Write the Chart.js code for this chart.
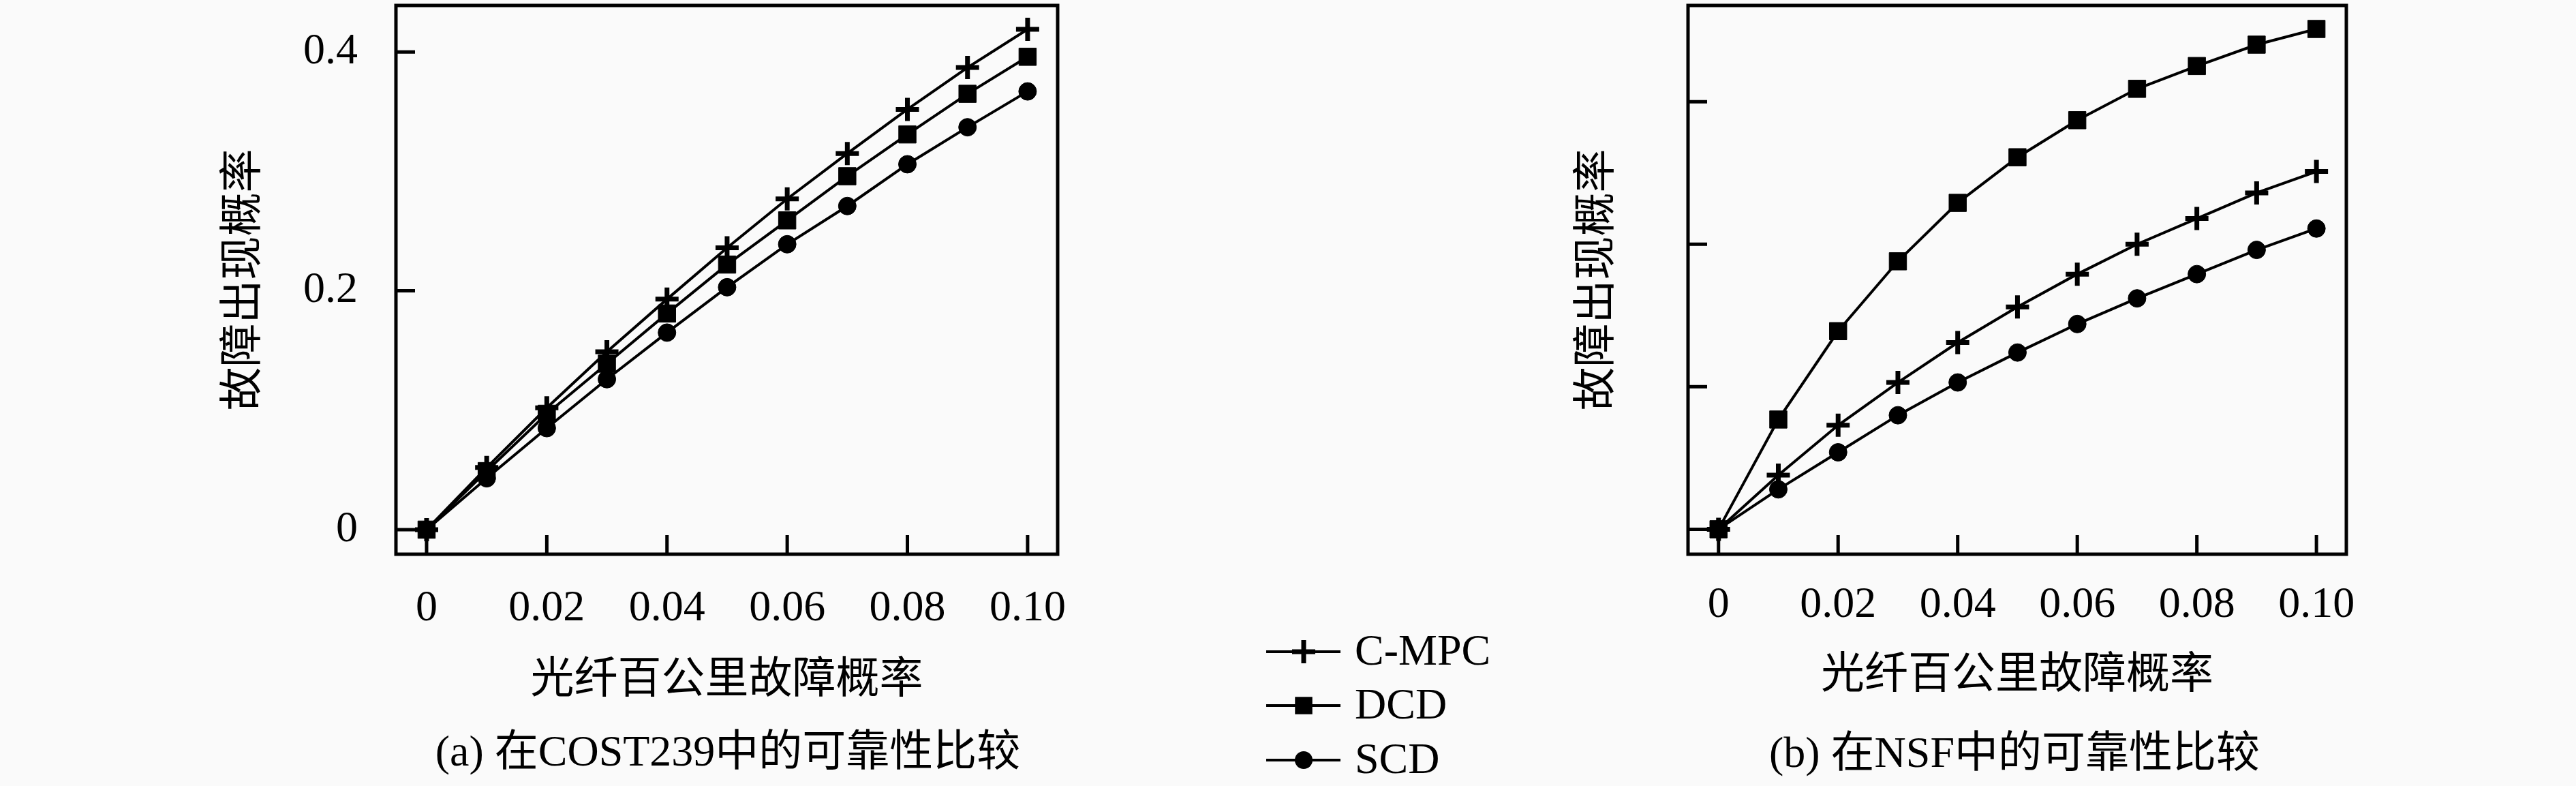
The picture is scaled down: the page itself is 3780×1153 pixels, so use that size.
<!DOCTYPE html>
<html>
<head>
<meta charset="utf-8">
<script src="https://cdn.jsdelivr.net/npm/chart.js@4/dist/chart.umd.min.js"></script>
<style>
  html, body { margin: 0; padding: 0; background: #fafafa; }
  #wrap { position: relative; width: 3780px; height: 1153px; background: #fafafa; }
  canvas { position: absolute; top: 0; }
</style>
</head>
<body>
<div id="wrap">
  <canvas id="cost239Chart" width="2250" height="1153" style="left:0px;width:2250px;height:1153px"></canvas>
  <canvas id="nsfChart" width="1530" height="1153" style="left:2250px;width:1530px;height:1153px"></canvas>
</div>
<script>
// x values: fibre failure probability per 100 km
const failProb = [0, 0.01, 0.02, 0.03, 0.04, 0.05, 0.06, 0.07, 0.08, 0.09, 0.10];

// (a) COST239
const cost239CMPC = [0, 0.052, 0.102, 0.149, 0.193, 0.236, 0.277, 0.315, 0.352, 0.387, 0.419];
const cost239DCD  = [0, 0.049, 0.097, 0.139, 0.181, 0.222, 0.259, 0.296, 0.331, 0.365, 0.396];
const cost239SCD  = [0, 0.043, 0.085, 0.126, 0.165, 0.203, 0.239, 0.271, 0.306, 0.337, 0.367];

// (b) NSF (y axis has no labels in the original)
const nsfCMPC = [0, 0.038, 0.073, 0.103, 0.131, 0.156, 0.179, 0.200, 0.218, 0.236, 0.251];
const nsfDCD  = [0, 0.077, 0.139, 0.188, 0.229, 0.261, 0.287, 0.309, 0.325, 0.340, 0.351];
const nsfSCD  = [0, 0.028, 0.054, 0.080, 0.103, 0.124, 0.144, 0.162, 0.179, 0.196, 0.211];

const seriesNames = ['C-MPC', 'DCD', 'SCD'];
const xTickValues = [0, 0.02, 0.04, 0.06, 0.08, 0.10];
const xTickLabels = ['0', '0.02', '0.04', '0.06', '0.08', '0.10'];
const cost239YTicks = [0, 0.2, 0.4];
const cost239YLabels = ['0', '0.2', '0.4'];
const nsfYTicks = [0, 0.1, 0.2, 0.3];

const xTitle = '光纤百公里故障概率';
const yTitle = '故障出现概率';
const captionA = '(a) 在COST239中的可靠性比较';
const captionB = '(b) 在NSF中的可靠性比较';

const FONT = "'Liberation Serif', 'Noto Sans CJK SC', serif";
const markerStyles = ['cross', 'rect', 'circle'];
const markerRadius = [17, 18, 13];

function toPoints(ys) {
  return ys.map((y, i) => ({ x: failProb[i], y: y }));
}

function makeDatasets(values) {
  return values.map((ys, i) => ({
    label: seriesNames[i],
    data: toPoints(ys),
    borderColor: '#000000',
    backgroundColor: '#000000',
    borderWidth: 4,
    tension: 0,
    pointStyle: markerStyles[i],
    pointRadius: markerRadius[i],
    pointBorderWidth: markerStyles[i] === 'cross' ? 7 : 1,
    pointBackgroundColor: '#000000',
    pointBorderColor: '#000000'
  }));
}

// manual marker for the legend
function drawMarker(ctx, style, x, y, r) {
  ctx.save();
  ctx.fillStyle = '#000';
  ctx.strokeStyle = '#000';
  if (style === 'cross') {
    ctx.lineWidth = 7;
    ctx.beginPath();
    ctx.moveTo(x - r, y); ctx.lineTo(x + r, y);
    ctx.moveTo(x, y - r); ctx.lineTo(x, y + r);
    ctx.stroke();
  } else if (style === 'rect') {
    const s = Math.SQRT1_2 * r;
    ctx.fillRect(x - s, y - s, 2 * s, 2 * s);
  } else {
    ctx.beginPath();
    ctx.arc(x, y, r, 0, Math.PI * 2);
    ctx.fill();
  }
  ctx.restore();
}

// box around the plot and inward tick marks
const frameAndTicks = {
  id: 'frameAndTicks',
  beforeDatasetsDraw(chart) {
    const ctx = chart.ctx;
    const a = chart.chartArea;
    const xs = chart.scales.x, ys = chart.scales.y;
    ctx.save();
    ctx.strokeStyle = '#000';
    ctx.lineWidth = 5;
    ctx.strokeRect(a.left, a.top, a.right - a.left, a.bottom - a.top);
    ctx.beginPath();
    xs.ticks.forEach(t => {
      const px = xs.getPixelForValue(t.value);
      ctx.moveTo(px, a.bottom); ctx.lineTo(px, a.bottom - 28);
    });
    ys.ticks.forEach(t => {
      const py = ys.getPixelForValue(t.value);
      ctx.moveTo(a.left, py); ctx.lineTo(a.left + 28, py);
    });
    ctx.stroke();
    ctx.restore();
  }
};

// caption under each panel, legend only on the first canvas
const captionAndLegend = {
  id: 'captionAndLegend',
  afterDraw(chart, args, opts) {
    const ctx = chart.ctx;
    ctx.save();
    ctx.fillStyle = '#000';
    ctx.font = '64px ' + FONT;
    ctx.textAlign = 'center';
    ctx.textBaseline = 'middle';
    ctx.fillText(opts.caption, opts.captionX, opts.captionY);
    if (opts.legend) {
      const rows = [956, 1035, 1115];
      chart.data.datasets.forEach((ds, i) => {
        const y = rows[i];
        ctx.strokeStyle = '#000';
        ctx.lineWidth = 4;
        ctx.beginPath();
        ctx.moveTo(1858, y); ctx.lineTo(1967, y);
        ctx.stroke();
        drawMarker(ctx, ds.pointStyle, 1913, y, ds.pointRadius);
        ctx.textAlign = 'left';
        ctx.fillText(ds.label, 1988, y + 2);
      });
    }
    ctx.restore();
  }
};

function buildChart(id, values, cfg) {
  const ctx = document.getElementById(id).getContext('2d');
  return new Chart(ctx, {
    type: 'line',
    data: { datasets: makeDatasets(values) },
    options: {
      responsive: false,
      maintainAspectRatio: false,
      animation: false,
      devicePixelRatio: 1,
      layout: { autoPadding: false, padding: { left: 0, top: 8, right: cfg.padRight, bottom: 0 } },
      scales: {
        x: {
          type: 'linear',
          min: -0.0051,
          max: 0.105,
          afterBuildTicks: s => { s.ticks = xTickValues.map(v => ({ value: v })); },
          afterFit: s => { s.height = 340; s.paddingLeft = 0; s.paddingRight = 0; },
          grid: { display: false, drawTicks: false },
          border: { display: false },
          ticks: {
            padding: cfg.xTickPad,
            maxRotation: 0,
            autoSkip: false,
            color: '#000',
            font: { family: FONT, size: 64 },
            callback: (v) => xTickLabels[xTickValues.indexOf(v)]
          },
          title: {
            display: true,
            text: xTitle,
            color: '#000',
            font: { family: FONT, size: 64 },
            padding: { top: 0, bottom: cfg.xTitlePad }
          }
        },
        y: {
          type: 'linear',
          min: cfg.yMin,
          max: cfg.yMax,
          afterBuildTicks: s => { s.ticks = cfg.yTicks.map(v => ({ value: v })); },
          afterFit: s => { s.width = cfg.yWidth; s.paddingTop = 0; s.paddingBottom = 0; },
          grid: { display: false, drawTicks: false },
          border: { display: false },
          ticks: {
            display: cfg.yLabels !== null,
            padding: 56,
            color: '#000',
            font: { family: FONT, size: 64 },
            callback: (v) => cfg.yLabels ? cfg.yLabels[cfg.yTicks.indexOf(v)] : ''
          },
          title: {
            display: true,
            text: yTitle,
            color: '#000',
            font: { family: FONT, size: 64 },
            padding: { top: cfg.yTitlePad, bottom: 0 }
          }
        }
      },
      plugins: {
        legend: { display: false },
        tooltip: { enabled: false },
        captionAndLegend: cfg.caption
      }
    },
    plugins: [frameAndTicks, captionAndLegend]
  });
}

buildChart('cost239Chart', [cost239CMPC, cost239DCD, cost239SCD], {
  padRight: 2250 - 1552,
  yWidth: 581,
  yMin: -0.0206, yMax: 0.439,
  yTicks: cost239YTicks, yLabels: cost239YLabels,
  xTickPad: 42, xTitlePad: 115, yTitlePad: 321,
  caption: { caption: captionA, captionX: 1068, captionY: 1106, legend: true }
});

buildChart('nsfChart', [nsfCMPC, nsfDCD, nsfSCD], {
  padRight: 1530 - 1193,
  yWidth: 227,
  yMin: -0.0175, yMax: 0.3675,
  yTicks: nsfYTicks, yLabels: null,
  xTickPad: 37, xTitlePad: 122, yTitlePad: 57,
  caption: { caption: captionB, captionX: 706, captionY: 1108, legend: false }
});
</script>
</body>
</html>
